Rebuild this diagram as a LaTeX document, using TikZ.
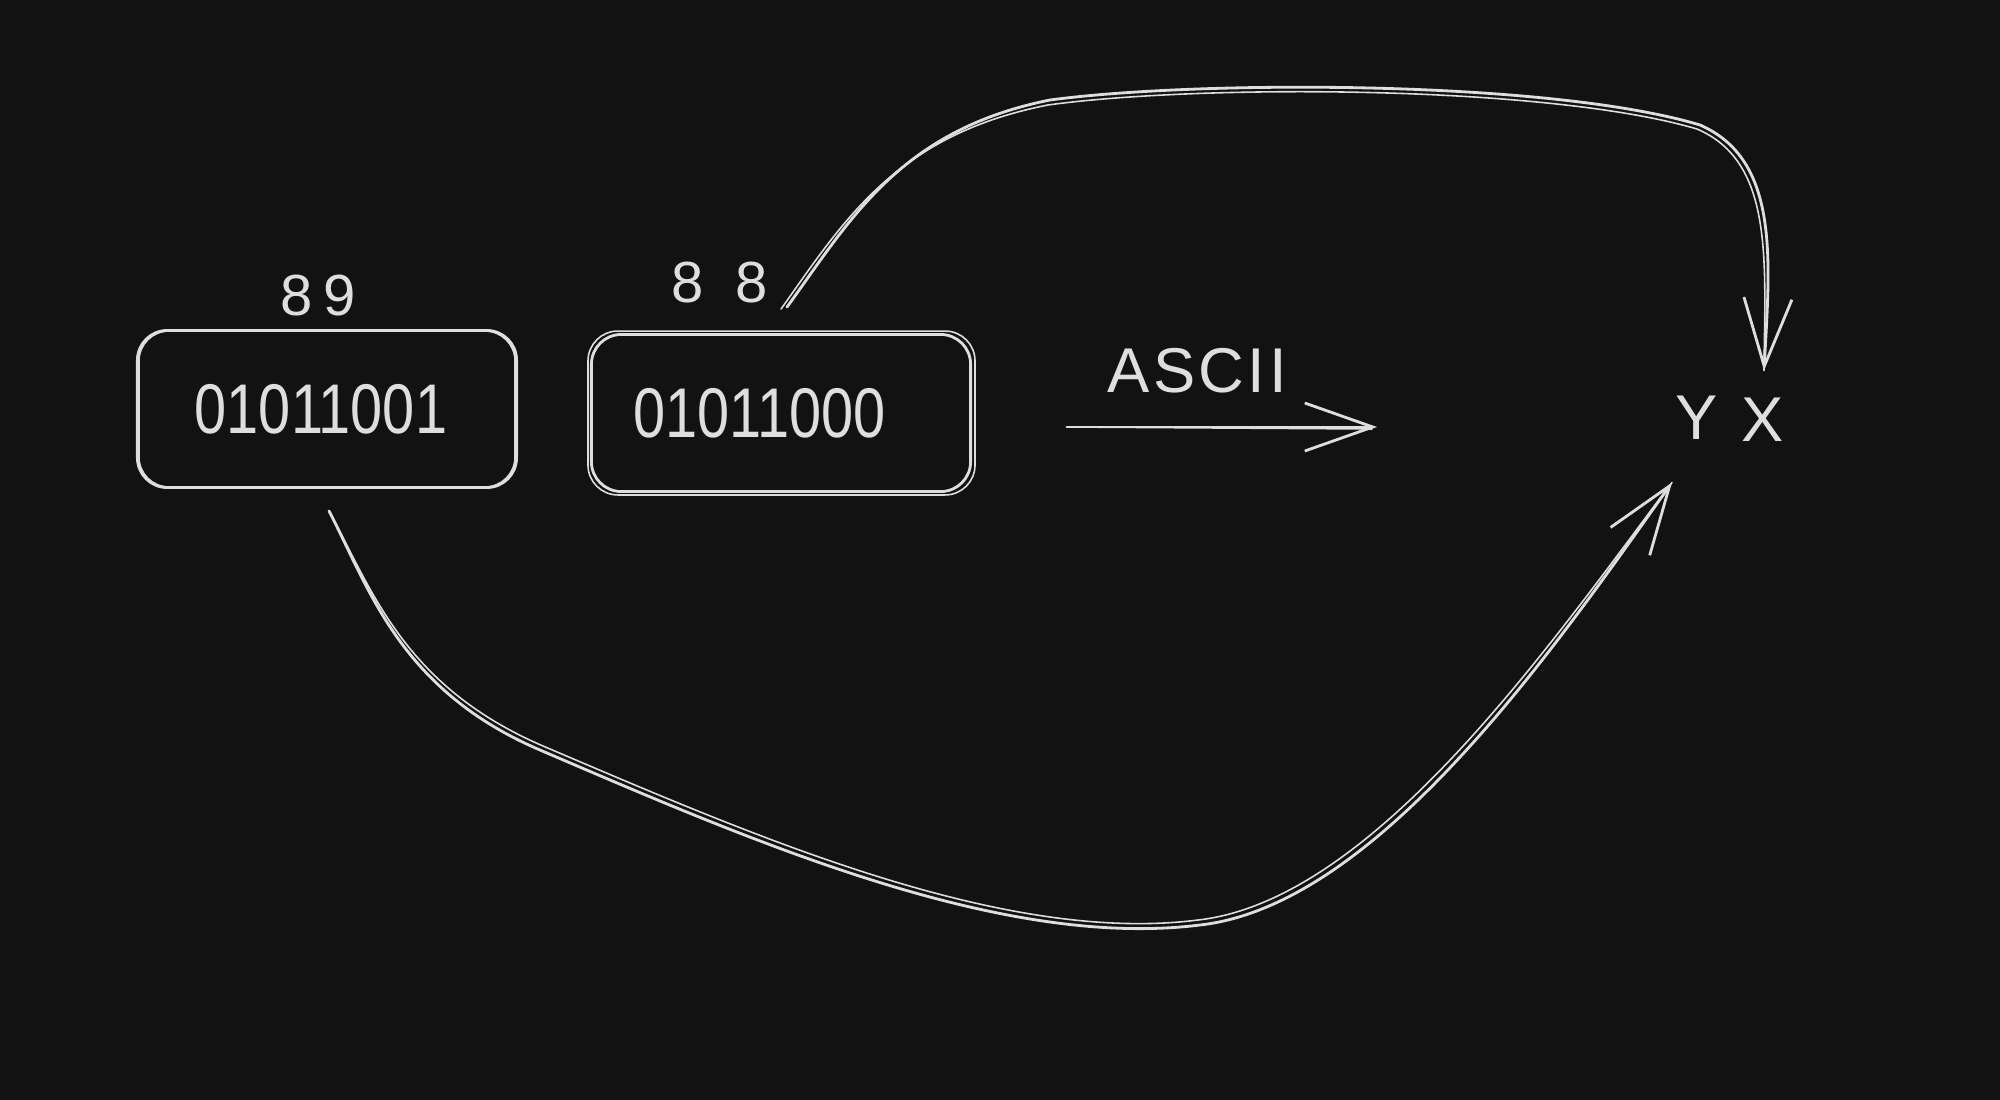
\documentclass[tikz,border=0pt]{standalone}
\usepackage{fontspec}
\setmainfont{Liberation Sans}
\usetikzlibrary{arrows.meta}
\definecolor{bg}{RGB}{18,18,18}
\definecolor{ink}{RGB}{222,222,222}
\begin{document}
\begin{tikzpicture}[x=0.01cm,y=-0.01cm,
  bitbox/.style={draw=ink, line width=0.8pt, rounded corners=8.5pt,
    minimum width=3.79cm, minimum height=1.57cm, inner sep=0pt, text=ink,
    font=\fontsize{20}{24}\selectfont},
  numlabel/.style={text=ink, inner sep=0pt, font=\fontsize{16.5}{20}\selectfont},
  letter/.style={text=ink, inner sep=0pt, font=\fontsize{18}{22}\selectfont},
  conn/.style={draw=ink, line width=0.8pt, line cap=round, line join=round},
  sketch/.style={draw=ink, line width=0.45pt, line cap=round},
  tip/.style={-{Straight Barb[length=0.68cm, width=0.48cm]}}
]
\fill[bg] (0,0) rectangle (2000,1100);
\useasboundingbox (0,0) rectangle (2000,1100);

% boxes
\node[bitbox] (b1) at (327,409) {\hspace*{-3.4pt}\scalebox{0.82}[1]{01011001}};
\node[bitbox] (b2) at (781,413) {\hspace*{-12pt}\scalebox{0.82}[1]{01011000}};
\draw[sketch, rounded corners=8.5pt] ([shift={(3,-2)}]b1.south west) rectangle ([shift={(-3,2)}]b1.north east);
\draw[sketch, rounded corners=8.5pt] ([shift={(-2,2)}]b2.south west) rectangle ([shift={(3,-2)}]b2.north east);

% labels
\node[numlabel] (n89) at (318,296) {8\hspace{3pt}9};
\node[numlabel] (n88) at (720,283) {8\hspace{9pt}8};
\node[letter] (ascii) at (1197,371) {A\hspace{1pt}S\hspace{1pt}C\hspace{1pt}I\hspace{1pt}I};
\node[letter] (Y) at (1697,418) {Y};
\node[letter] (X) at (1763,420) {X};

% ASCII arrow
\coordinate (a1) at (1067,427);
\coordinate (a2) at (1377,427);
\draw[conn, tip] (a1) -- (a2);
\draw[sketch] (a1) -- ([shift={(-5,2)}]a2);

% top arrow: 88 -> X
\draw[conn, tip] ([shift={(6,-26)}]b2.north)
  .. controls (850,220) and (900,130) .. (1050,100)
  .. controls (1200,80) and (1550,80) .. (1700,125)
  .. controls (1780,160) and (1770,260) .. ([shift={(1,-27)}]X.north);
\draw[sketch] ([shift={(0,-24)}]b2.north)
  .. controls (843,222) and (895,135) .. (1048,105)
  .. controls (1200,84) and (1548,85) .. (1697,129)
  .. controls (1774,162) and (1765,260) .. ([shift={(1,-27)}]X.north);

% bottom arrow: 89 -> Y
\draw[conn, tip] ([shift={(2,22)}]b1.south)
  .. controls (370,590) and (400,690) .. (540,750)
  .. controls (750,840) and (1000,950) .. (1200,925)
  .. controls (1380,905) and (1560,640) .. ([shift={(-25,42)}]Y.south);
\draw[sketch] ([shift={(2,22)}]b1.south)
  .. controls (373,592) and (404,686) .. (543,746)
  .. controls (752,835) and (1002,945) .. (1198,920)
  .. controls (1376,900) and (1555,637) .. ([shift={(-25,42)}]Y.south);
\end{tikzpicture}
\end{document}
